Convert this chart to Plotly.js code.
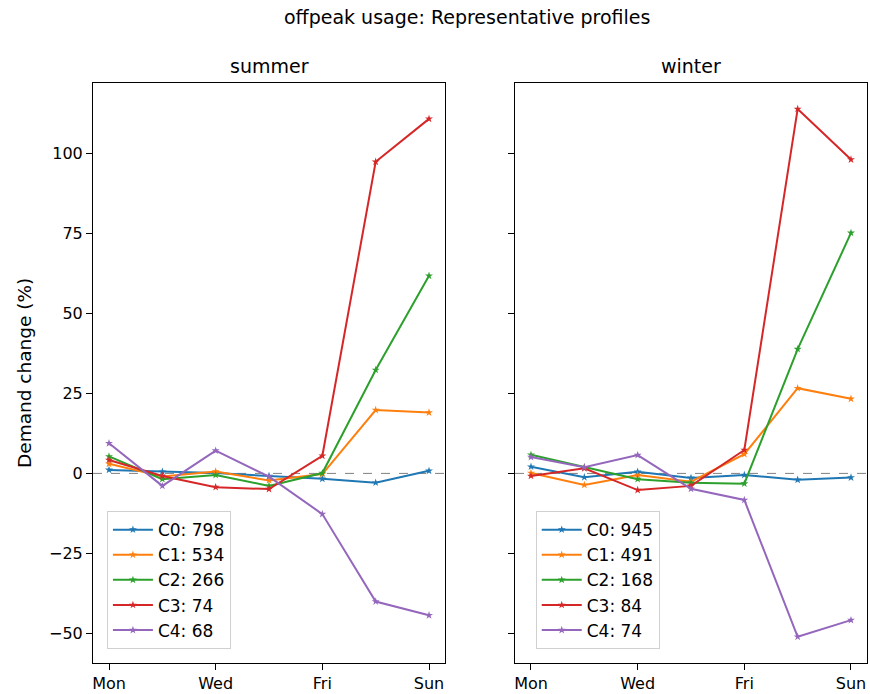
<!DOCTYPE html>
<html>
<head>
<meta charset="utf-8">
<script src="https://cdn.plot.ly/plotly-3.0.1.min.js"></script>
<style>html,body{margin:0;padding:0;background:#fff;}#chart{width:870px;height:694px;}</style>
</head>
<body>
<div id="chart"></div>
<script>
const days = ['Mon','Tue','Wed','Thu','Fri','Sat','Sun'];
const tickDays = ['Mon','Wed','Fri','Sun'];
const clusters = ['C0','C1','C2','C3','C4'];
const summerCounts = [798, 534, 266, 74, 68];
const winterCounts = [945, 491, 168, 84, 74];
const colors = ['#1f77b4','#ff7f0e','#2ca02c','#d62728','#9467bd'];

const summerC0 = [1.1, 0.5, 0.1, -0.8, -1.7, -2.9, 0.8];
const summerC1 = [3.0, -1.0, 0.6, -2.2, -0.2, 19.8, 19.0];
const summerC2 = [5.3, -1.8, -0.5, -3.9, 0.1, 32.3, 61.7];
const summerC3 = [4.2, -0.8, -4.3, -4.9, 5.5, 97.3, 110.7];
const summerC4 = [9.4, -3.9, 7.1, -1.0, -12.7, -40.0, -44.3];

const winterC0 = [2.1, -1.2, 0.5, -1.4, -0.5, -2.0, -1.3];
const winterC1 = [0.1, -3.6, -0.5, -2.6, 6.0, 26.6, 23.3];
const winterC2 = [5.8, 1.9, -1.8, -2.9, -3.2, 38.8, 75.1];
const winterC3 = [-0.8, 1.6, -5.2, -3.9, 7.3, 113.8, 98.0];
const winterC4 = [5.1, 1.9, 5.7, -4.8, -8.3, -51.0, -45.8];

const summer = [summerC0, summerC1, summerC2, summerC3, summerC4];
const winter = [winterC0, winterC1, winterC2, winterC3, winterC4];

const traces = [];
function addSeries(set, counts, xa, ya, leg) {
  set.forEach((vals, i) => {
    traces.push({
      x: days, y: vals, xaxis: xa, yaxis: ya, legend: leg,
      type: 'scatter', mode: 'lines+markers',
      name: clusters[i] + ': ' + counts[i],
      line: {color: colors[i], width: 2},
      marker: {symbol: 'star', size: 6, color: colors[i]},
      hoverinfo: 'skip'
    });
  });
}
addSeries(summer, summerCounts, 'x', 'y', 'legend');
addSeries(winter, winterCounts, 'x2', 'y2', 'legend2');

const font = {family: 'DejaVu Sans', color: '#000'};
const xbase = {
  type: 'category', categoryorder: 'array', categoryarray: days,
  range: [-0.3, 6.3], tickmode: 'array', tickvals: tickDays, ticktext: tickDays,
  showline: true, linecolor: '#000', linewidth: 1, mirror: true,
  ticks: 'outside', ticklen: 6, tickcolor: '#000', showgrid: false, zeroline: false,
  tickfont: {family: 'DejaVu Sans', size: 16, color: '#000'}
};
const ybase = {
  range: [-59.2, 121.9], tickmode: 'array', tickvals: [-50,-25,0,25,50,75,100],
  showline: true, linecolor: '#000', linewidth: 1, mirror: true,
  ticks: 'outside', ticklen: 6, tickcolor: '#000', showgrid: false, zeroline: false,
  tickfont: {family: 'DejaVu Sans', size: 16, color: '#000'}
};
const legBase = {
  bgcolor: 'rgba(255,255,255,0.8)', bordercolor: '#d0d0d0', borderwidth: 1,
  font: {family: 'DejaVu Sans', size: 17, color: '#000'},
  xref: 'paper', yref: 'paper', xanchor: 'left', yanchor: 'bottom', y: 0.024,
  itemwidth: 40
};

const layout = {
  width: 870, height: 694,
  margin: {l: 93, r: 3, t: 83, b: 31},
  paper_bgcolor: '#fff', plot_bgcolor: '#fff',
  font: font,
  showlegend: true,
  title: {text: 'offpeak usage: Representative profiles', font: {family: 'DejaVu Sans', size: 19, color: '#000'},
          x: 0.537, xref: 'container', xanchor: 'center', y: 0.9755, yref: 'container', yanchor: 'middle'},
  xaxis: Object.assign({}, xbase, {domain: [0, 0.4548], anchor: 'y'}),
  xaxis2: Object.assign({}, xbase, {domain: [0.5452, 1], anchor: 'y2'}),
  yaxis: Object.assign({}, ybase, {anchor: 'x'}),
  yaxis2: Object.assign({}, ybase, {anchor: 'x2', matches: 'y', showticklabels: false}),
  legend: Object.assign({}, legBase, {x: 0.018}),
  legend2: Object.assign({}, legBase, {x: 0.572}),
  shapes: [
    {type: 'line', xref: 'x domain', yref: 'y', x0: 0, x1: 1, y0: 0, y1: 0, line: {color: '#808080', width: 1, dash: 'dash'}, layer: 'below'},
    {type: 'line', xref: 'x2 domain', yref: 'y2', x0: 0, x1: 1, y0: 0, y1: 0, line: {color: '#808080', width: 1, dash: 'dash'}, layer: 'below'}
  ],
  annotations: [
    {text: 'summer', xref: 'paper', yref: 'paper', x: 0.2274, y: 1, xanchor: 'center', yanchor: 'bottom', yshift: 4, showarrow: false,
     font: {family: 'DejaVu Sans', size: 19, color: '#000'}},
    {text: 'winter', xref: 'paper', yref: 'paper', x: 0.7726, y: 1, xanchor: 'center', yanchor: 'bottom', yshift: 4, showarrow: false,
     font: {family: 'DejaVu Sans', size: 19, color: '#000'}},
    {text: 'Demand change (%)', xref: 'paper', yref: 'paper', x: 0, y: 0.5, xshift: -69, textangle: -90,
     xanchor: 'center', yanchor: 'middle', showarrow: false, font: {family: 'DejaVu Sans', size: 18.5, color: '#000'}}
  ]
};

Plotly.newPlot('chart', traces, layout, {staticPlot: true, displayModeBar: false});
</script>
</body>
</html>
